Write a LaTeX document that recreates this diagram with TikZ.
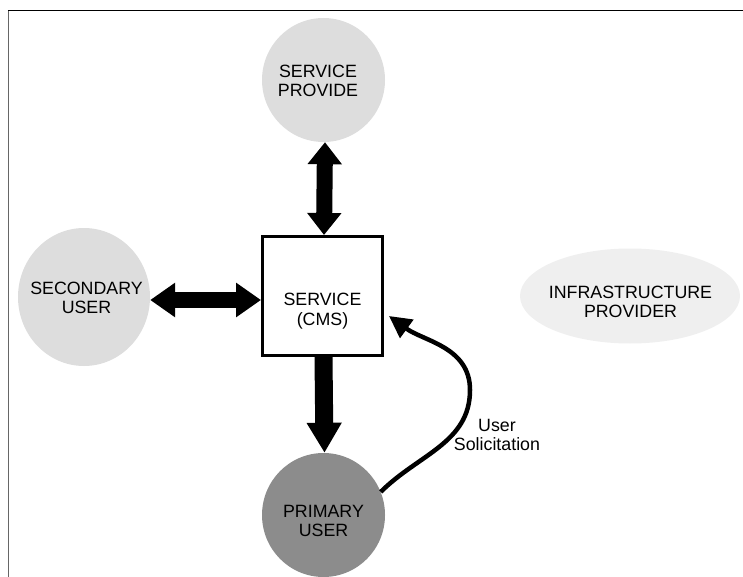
\documentclass[tikz,border=0pt]{standalone}
\usepackage{fontspec}
\setmainfont{Liberation Sans}
\usetikzlibrary{arrows.meta,shapes.geometric}
\definecolor{lightfill}{HTML}{DDDDDD}
\definecolor{palefill}{HTML}{EFEFEF}
\definecolor{darkfill}{HTML}{8C8C8C}
\tikzset{
  lbl/.style={font=\fontsize{17.8}{19.5}\selectfont, align=center, inner sep=0pt},
  blob/.style={ellipse, inner sep=0pt},
  cmsbox/.style={draw, line width=3pt, fill=white, minimum width=120pt, minimum height=119pt, inner sep=0pt},
  blockarrow/.style={line width=16pt, draw=black},
  curvearrow/.style={line width=4.5pt, -{Triangle[length=22pt,width=22pt]}},
}
\begin{document}
\begin{tikzpicture}[x=1pt,y=-1pt]
\useasboundingbox (0,0) rectangle (743,577);
% frame
\draw[line width=1.5pt, black!60] (8.5,577) -- (8.5,10.5);
\draw[line width=1.5pt] (7.75,10.5) -- (743,10.5);
% nodes
\node[blob, fill=lightfill, minimum width=123pt, minimum height=124pt] (sp) at (323.5,80) {};
\node[lbl] (sptext) at (318,81) {SERVICE\\PROVIDE};
\node[blob, fill=lightfill, minimum width=132pt, minimum height=138pt] (su) at (84,297) {};
\node[lbl] (sutext) at (86.5,298) {SECONDARY\\USER};
\node[blob, fill=palefill, minimum width=220pt, minimum height=95pt] (ip) at (630,296) {};
\node[lbl] (iptext) at (630.5,302) {INFRASTRUCTURE\\PROVIDER};
\node[blob, fill=darkfill, minimum width=123pt, minimum height=124pt] (pu) at (323.5,515) {};
\node[lbl] (putext) at (323.5,521) {PRIMARY\\USER};
\node[cmsbox] (cms) at (322.5,296) {};
\node[lbl] (cmstext) at (322.5,311) {SERVICE\\(CMS)};
% block arrows
\draw[blockarrow, {Triangle[length=22pt,width=33pt]}-{Triangle[length=22pt,width=33pt]}]
  ([xshift=1.5pt]sp.south) -- ([xshift=1.5pt]cms.north);
\draw[blockarrow, {Triangle[length=25pt,width=33pt]}-{Triangle[length=25pt,width=33pt]}]
  ([yshift=-3pt]su.east) -- ([yshift=-3pt]su.east -| cms.west);
\draw[line width=18pt, -{Triangle[length=30pt,width=33pt]}]
  ([xshift=1pt]cms.south) -- ([xshift=1pt]pu.north);
% curved arrow
\coordinate (bend) at (470,390);
\draw[curvearrow] (pu.22) to[out=45,in=-90] (bend) to[out=90,in=-36] ([xshift=5pt,yshift=-20pt]cms.east);
\node[lbl] (soltext) at (497,435) {User\\Solicitation};
\end{tikzpicture}
\end{document}
